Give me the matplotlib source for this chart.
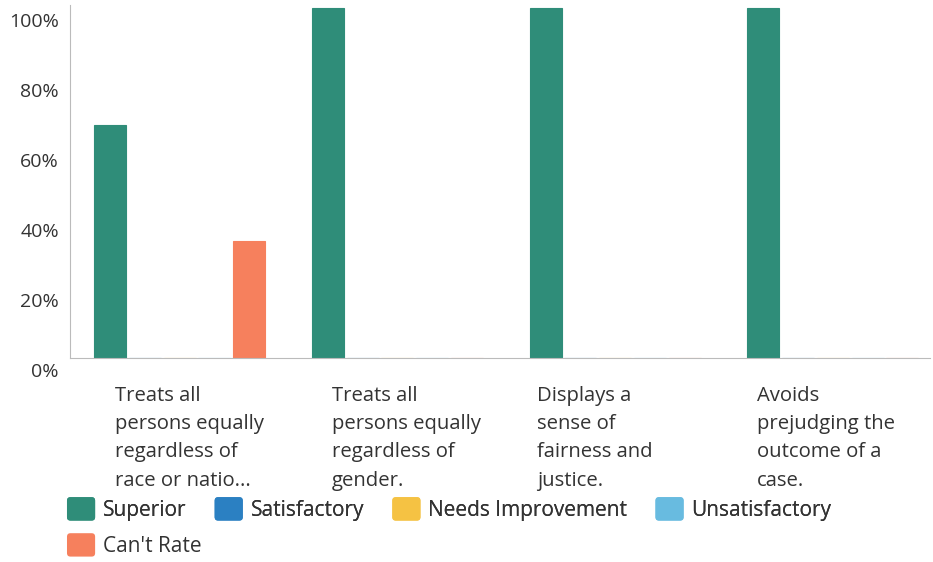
import numpy as np
import matplotlib
matplotlib.use("Agg")
import matplotlib.pyplot as plt
import matplotlib.transforms as mtransforms
from matplotlib.patches import Rectangle, FancyBboxPatch
from matplotlib.legend_handler import HandlerPatch

plt.rcParams['font.family'] = ['Open Sans', 'DejaVu Sans']

# data
categories = [
    "Treats all\npersons equally\nregardless of\nrace or natio...",
    "Treats all\npersons equally\nregardless of\ngender.",
    "Displays a\nsense of\nfairness and\njustice.",
    "Avoids\nprejudging the\noutcome of a\ncase.",
]
series = ["Superior", "Satisfactory", "Needs Improvement", "Unsatisfactory", "Can't Rate"]
superior = [66.67, 100, 100, 100]
satisfactory = [0, 0, 0, 0]
needs_improvement = [0, 0, 0, 0]
unsatisfactory = [0, 0, 0, 0]
cant_rate = [33.33, 0, 0, 0]
yticks = [0, 20, 40, 60, 80, 100]

colors = ["#2f8d79", "#2b80c2", "#f5c243", "#68bbe0", "#f6805d"]
values = [superior, satisfactory, needs_improvement, unsatisfactory, cant_rate]
text_col = "#333333"


class RoundHandler(HandlerPatch):
    def create_artists(self, legend, orig_handle, xdescent, ydescent,
                       width, height, fontsize, trans):
        p = FancyBboxPatch((-xdescent, -ydescent), width, height,
                           boxstyle="round,pad=0,rounding_size=2.5",
                           facecolor=orig_handle.get_facecolor(),
                           edgecolor='none', transform=trans)
        return [p]


fig = plt.figure(figsize=(9.33, 5.62), dpi=100)
ax = fig.add_axes([0.075, 0.363, 0.922, 0.628])

x = np.arange(len(categories))
slot = 0.1596
width = 0.147
for i, (name, vals, c) in enumerate(zip(series, values, colors)):
    ax.bar(x + (i - 2) * slot, vals, width, color=c, label=name,
           edgecolor=c, linewidth=0.8, zorder=2)

ax.set_xlim(-0.503, 3.447)
ax.set_ylim(0, 100.86)
ax.set_yticks(yticks)
ax.set_yticklabels([f"{t}%" for t in yticks], fontsize=14, color=text_col)
ax.tick_params(axis='y', length=0, pad=8)
ax.set_xticks([])

# labels in the scan sit a bit below their lines
offset = mtransforms.ScaledTranslation(0, -12 / 100, fig.dpi_scale_trans)
for lab in ax.get_yticklabels():
    lab.set_transform(lab.get_transform() + offset)

for s in ['top', 'right']:
    ax.spines[s].set_visible(False)
for s in ['left', 'bottom']:
    ax.spines[s].set_color('#bbbbbb')
    ax.spines[s].set_linewidth(0.8)

label_shift = [-0.296, -0.30, -0.36, -0.35]
for i, lab in enumerate(categories):
    ax.text(i + label_shift[i], -0.078, lab, transform=ax.get_xaxis_transform(),
            ha='left', va='top', fontsize=14.6, color=text_col, linespacing=1.56)

handles = [Rectangle((0, 0), 1, 1, facecolor=c) for c in colors]
leg_kw = dict(frameon=False, fontsize=15, handlelength=1.35, handleheight=1.35,
              handletextpad=0.38, columnspacing=1.35, borderaxespad=0, borderpad=0,
              labelcolor=text_col, handler_map={Rectangle: RoundHandler()})
leg1 = fig.legend(handles[:4], series[:4], loc='center left',
                  bbox_to_anchor=(0.0718, 0.0943), ncol=4, **leg_kw)
fig.add_artist(leg1)
fig.legend(handles[4:], series[4:], loc='center left',
           bbox_to_anchor=(0.0718, 0.0302), ncol=1, **leg_kw)

fig.savefig("out.png", dpi=100)
